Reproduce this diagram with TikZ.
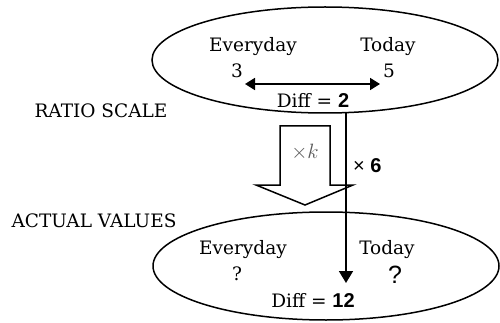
\documentclass[tikz,border=0pt]{standalone}
\usepackage{fontspec}
\setmainfont{DejaVu Serif}
\newfontfamily\boldsans{Liberation Sans}
\usetikzlibrary{arrows.meta,shapes.geometric}
\begin{document}
\begin{tikzpicture}[x=1pt,y=-1pt,
  lbl/.style={font=\fontsize{18.5}{20}\selectfont, inner sep=0pt},
  line/.style={line width=1.8pt},
  tip/.style={-{Triangle[length=12pt,width=14pt]}}]
\useasboundingbox (0,0) rectangle (500,323);
% ellipses
\node[draw, line width=1.5pt, ellipse, minimum width=346pt, minimum height=106pt, inner sep=0pt] (top) at (325,60) {};
\node[draw, line width=1.5pt, ellipse, minimum width=346pt, minimum height=108pt, inner sep=0pt] (bot) at (326,266) {};
% top texts
\node[lbl] (e1) at (253,47) {Everyday};
\node[lbl] (t1) at (388,47) {Today};
\node[lbl] (n3) at (237,71) {3};
\node[lbl] (n5) at (389,71) {5};
\coordinate (al) at (245,84);
\coordinate (ar) at (380,84);
\draw[line, {Triangle[length=10pt,width=12pt]}-{Triangle[length=10pt,width=12pt]}] (al) -- (ar);
\node[lbl] (d1) at (313,100) {Diff = {\boldsans\bfseries\fontsize{20}{22}\selectfont 2}};
% side labels
\node[lbl] (rs) at (101,111) {RATIO SCALE};
\node[lbl] (av) at (94,221) {ACTUAL VALUES};
% block arrow
\draw[line width=1.5pt, line join=miter] (280,126) -- (330,126) -- (330,185) -- (353,185) -- (305,205) -- (256,185) -- (280,185) -- cycle;
\node[lbl, font=\fontsize{20}{22}\selectfont, text=black!65] (k) at (305,152) {$\times k$};
% vertical arrow
\coordinate (vs) at (346,113);
\coordinate (ve) at (346,283);
\draw[line, tip] (vs) -- (ve);
\node[font=\boldsans\fontsize{20}{22}\selectfont, anchor=west, inner sep=0pt] (x6) at (353,166) {× \textbf{6}};
% bottom texts
\node[lbl] (e2) at (243,250) {Everyday};
\node[lbl] (q1) at (237,274) {?};
\node[lbl] (t2) at (387,250) {Today};
\node[font=\boldsans\fontsize{25}{27}\selectfont, inner sep=0pt] (q2) at (395,275) {?};
\node[lbl] (d2) at (313,300) {Diff = {\boldsans\bfseries\fontsize{20}{22}\selectfont 12}};
\end{tikzpicture}
\end{document}
